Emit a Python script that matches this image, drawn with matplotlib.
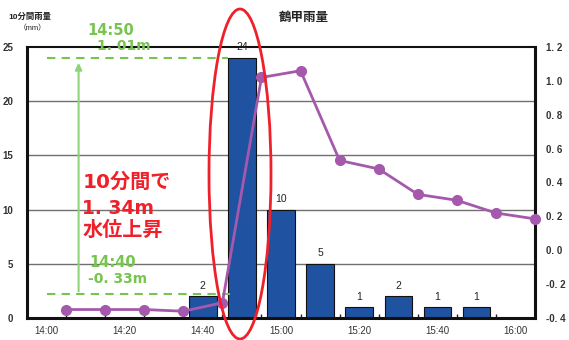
import matplotlib
matplotlib.use("Agg")
import matplotlib.pyplot as plt
from matplotlib.patches import Ellipse

plt.rcParams['font.family'] = ['Liberation Sans', 'Noto Sans CJK JP', 'DejaVu Sans']
plt.rcParams['axes.unicode_minus'] = False

# data (minutes after 14:00)
bar_minutes = [0, 10, 20, 30, 40, 50, 60, 70, 80, 90, 100, 110, 120]
rain_mm = [0, 0, 0, 0, 2, 24, 10, 5, 1, 2, 1, 1, 0]
level_minutes = [5, 15, 25, 35, 45, 55, 65, 75, 85, 95, 105, 115, 125]
water_level = [-0.35, -0.35, -0.35, -0.36, -0.31, 1.02, 1.06, 0.53, 0.48, 0.33, 0.295, 0.22, 0.185]
xtick_minutes = [0, 20, 40, 60, 80, 100, 120]
xtick_labels = ["14:00", "14:20", "14:40", "15:00", "15:20", "15:40", "16:00"]
left_ticks = [0, 5, 10, 15, 20, 25]
right_ticks = [-0.4, -0.2, 0.0, 0.2, 0.4, 0.6, 0.8, 1.0, 1.2]

W, H = 569, 340
fig = plt.figure(figsize=(W / 100, H / 100), dpi=100)
L, R, T, B = 27, 535, 47, 318
ax = fig.add_axes([L / W, 1 - B / H, (R - L) / W, (B - T) / H])

bar_color = "#1f52a0"
line_color = "#a559ad"
green = "#77c44f"
green_line = "#8fd27a"
red = "#f0202a"
txt = "#333333"
ann_font = ['DejaVu Sans', 'Noto Sans CJK JP']

ax.set_xlim(-5, 125)
ax.set_ylim(0, 25)
for y in [5, 10, 15, 20]:
    ax.axhline(y, color="#707070", lw=1.0, zorder=0)

ax.bar(bar_minutes, rain_mm, width=7, color=bar_color, edgecolor="#111111", lw=0.8, zorder=2)
for xm, v in zip(bar_minutes, rain_mm):
    if v > 0:
        ax.text(xm, v + 0.5, str(v), ha="center", va="bottom", fontsize=7.5, color="#222222", zorder=5)

ax.set_yticks(left_ticks)
ax.set_yticklabels([str(t) for t in left_ticks], fontsize=7, color=txt, fontweight="bold")
ax.tick_params(axis="y", length=0, pad=10)

ax.set_xticks(xtick_minutes)
ax.set_xticklabels(xtick_labels, fontsize=7, color=txt)
ax.set_xticks([5 + 10 * k for k in range(12)], minor=True)
ax.tick_params(axis="x", which="major", length=0, pad=6)
ax.tick_params(axis="x", which="minor", direction="in", length=3, width=1, color="#222222")

for s in ["left", "bottom", "right"]:
    ax.spines[s].set_linewidth(2.2)
    ax.spines[s].set_color("#111111")
ax.spines["top"].set_linewidth(1.5)
ax.spines["top"].set_color("#111111")

ax2 = ax.twinx()
ax2.set_ylim(-0.4, 1.2)
ax2.plot(level_minutes, water_level, color=line_color, lw=2, marker="o", ms=7, clip_on=False, zorder=4)
ax2.set_yticks(right_ticks)
ax2.set_yticklabels([f"{t:.1f}".replace(".", ". ") for t in right_ticks], fontsize=7, color=txt, fontweight="bold")
ax2.tick_params(axis="y", length=0, pad=8)
for s in ax2.spines.values():
    s.set_visible(False)

# green annotations
ax.plot([0, 46.5], [24, 24], color=green, lw=1.5, ls=(0, (4, 3)), zorder=3)
ax.plot([0, 47], [2.2, 2.2], color=green, lw=1.5, ls=(0, (4, 3)), zorder=3)
ax.annotate("", xy=(8.2, 23.8), xytext=(8.2, 2.2),
            arrowprops=dict(arrowstyle="-|>", color=green_line, lw=1.5, mutation_scale=10), zorder=3)
ax.text(10.5, 26.5, "14:50", color=green, fontsize=10.5, fontweight="bold", va="center", ha="left",
        clip_on=False, family=ann_font)
ax.text(12.8, 25.1, "1. 01m", color=green, fontsize=10, fontweight="bold", va="center", ha="left",
        clip_on=False, family=ann_font)
ax.text(11, 5.15, "14:40", color=green, fontsize=10.5, fontweight="bold", va="center", ha="left", family=ann_font)
ax.text(10.5, 3.6, "-0. 33m", color=green, fontsize=10, fontweight="bold", va="center", ha="left", family=ann_font)

# red annotations
ax.text(9.2, 12.55, "10分間で", color=red, fontsize=14.5, fontweight="bold", va="center", ha="left", zorder=6,
        family=ann_font)
ax.text(9.2, 10.1, "1. 34m", color=red, fontsize=13.5, fontweight="bold", va="center", ha="left", zorder=6,
        family=ann_font)
ax.text(9.2, 8.1, "水位上昇", color=red, fontsize=14.5, fontweight="bold", va="center", ha="left", zorder=6,
        family=ann_font)

ell = Ellipse((240 / W, 1 - 174 / H), 62 / W, 330 / H, transform=fig.transFigure,
              fill=False, edgecolor=red, lw=2, zorder=10)
fig.patches.append(ell)

# titles
fig.text(304 / W, 1 - 18 / H, "鶴甲雨量", ha="center", va="center", fontsize=9, color="#222222", fontweight="bold")
fig.text(8 / W, 1 - 17 / H, "10分間雨量", ha="left", va="center", fontsize=6, color="#222222", fontweight="bold")
fig.text(33 / W, 1 - 29 / H, "（mm）", ha="center", va="center", fontsize=5.5, color="#222222")

fig.savefig("out.png", dpi=100)
